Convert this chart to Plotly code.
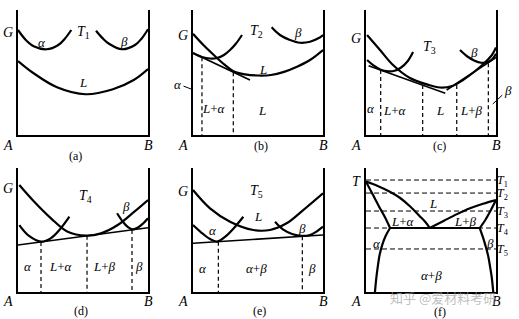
import plotly.graph_objects as go

# ---------------- data (composition x: A=0 .. B=1, free energy / temperature y: 0..1) ----------
# panel (a) T1
a_alpha_x = [0.0, 0.06, 0.12, 0.22, 0.31, 0.36, 0.41]
a_alpha_y = [0.84, 0.76, 0.71, 0.686, 0.72, 0.77, 0.84]
a_beta_x = [0.6, 0.65, 0.7, 0.8, 0.9, 0.95, 1.0]
a_beta_y = [0.834, 0.775, 0.73, 0.686, 0.72, 0.77, 0.846]
a_L_x = [0.0, 0.12, 0.3, 0.52, 0.73, 0.89, 1.0]
a_L_y = [0.592, 0.494, 0.382, 0.326, 0.366, 0.44, 0.528]

# panel (b) T2
b_L_x = [0.0, 0.08, 0.16, 0.24, 0.31, 0.4, 0.5, 0.6, 0.7, 0.8, 0.9, 1.0]
b_L_y = [0.81, 0.72, 0.64, 0.565, 0.51, 0.485, 0.476, 0.48, 0.505, 0.546, 0.6, 0.68]
b_alpha_x = [0.0, 0.069, 0.131, 0.185, 0.238, 0.285, 0.331, 0.377]
b_alpha_y = [0.656, 0.624, 0.612, 0.616, 0.64, 0.68, 0.732, 0.8]
b_beta_x = [0.605, 0.669, 0.746, 0.823, 0.9, 0.964, 1.0]
b_beta_y = [0.862, 0.8, 0.76, 0.738, 0.746, 0.774, 0.8]
b_tan_x = [0.0, 0.438]
b_tan_y = [0.656, 0.44]
b_dash_x = [0.069, 0.31]
b_dash_top = [0.622, 0.503]

# panel (c) T3
c_L_x = [0.008, 0.108, 0.208, 0.338, 0.469, 0.569, 0.662, 0.746, 0.838, 0.915, 0.969, 1.0]
c_L_y = [0.8, 0.68, 0.56, 0.456, 0.405, 0.38, 0.392, 0.44, 0.51, 0.58, 0.64, 0.70]
c_alpha_x = [0.008, 0.06, 0.113, 0.17, 0.22, 0.27, 0.32, 0.362]
c_alpha_y = [0.6, 0.555, 0.522, 0.51, 0.514, 0.54, 0.59, 0.664]
c_beta_x = [0.723, 0.777, 0.831, 0.885, 0.941, 0.975, 1.0]
c_beta_y = [0.68, 0.63, 0.597, 0.578, 0.585, 0.61, 0.65]
c_tan1_x = [0.02, 0.61]
c_tan1_y = [0.555, 0.335]
c_tan2_x = [0.62, 1.0]
c_tan2_y = [0.36, 0.62]
c_dash_x = [0.113, 0.436, 0.698, 0.941]
c_dash_top = [0.52, 0.40, 0.40, 0.575]

# panel (d) T4
d_L_x = [0.01, 0.125, 0.254, 0.382, 0.523, 0.638, 0.767, 0.895, 1.0]
d_L_y = [0.863, 0.728, 0.594, 0.486, 0.455, 0.473, 0.54, 0.648, 0.742]
d_alpha_x = [0.01, 0.085, 0.177, 0.254, 0.331, 0.395]
d_alpha_y = [0.54, 0.452, 0.406, 0.435, 0.516, 0.607]
d_beta_x = [0.762, 0.808, 0.846, 0.882, 0.923, 0.962, 1.0]
d_beta_y = [0.635, 0.565, 0.524, 0.505, 0.52, 0.552, 0.594]
d_tan_x = [0.0, 1.0]
d_tan_y = [0.379, 0.518]
d_dash_x = [0.177, 0.531, 0.877]
d_dash_top = [0.404, 0.453, 0.501]

# panel (e) T5
e_L_x = [0.0, 0.131, 0.285, 0.464, 0.592, 0.72, 0.848, 1.0]
e_L_y = [0.823, 0.675, 0.567, 0.5, 0.5, 0.554, 0.661, 0.796]
e_alpha_x = [0.0, 0.077, 0.131, 0.185, 0.246, 0.315, 0.387]
e_alpha_y = [0.54, 0.468, 0.427, 0.407, 0.444, 0.516, 0.607]
e_beta_x = [0.631, 0.692, 0.762, 0.838, 0.9, 0.954, 1.0]
e_beta_y = [0.567, 0.505, 0.468, 0.452, 0.46, 0.49, 0.527]
e_tan_x = [0.0, 1.0]
e_tan_y = [0.393, 0.46]
e_dash_x = [0.195, 0.841]
e_dash_top = [0.406, 0.449]

# panel (f) phase diagram
f_T_levels = [0.903, 0.798, 0.653, 0.516, 0.347]
f_T_names = ["1", "2", "3", "4", "5"]
f_liqA_x = [0.0, 0.09, 0.18, 0.26, 0.34, 0.41, 0.46, 0.49]
f_liqA_y = [0.89, 0.855, 0.81, 0.76, 0.69, 0.615, 0.56, 0.516]
f_solA_x = [0.0, 0.05, 0.1, 0.15, 0.185]
f_solA_y = [0.89, 0.79, 0.69, 0.595, 0.516]
f_liqB_x = [0.49, 0.6, 0.7, 0.8, 0.9, 1.0]
f_liqB_y = [0.516, 0.575, 0.628, 0.675, 0.712, 0.742]
f_solB_x = [1.0, 0.96, 0.92, 0.875]
f_solB_y = [0.742, 0.66, 0.585, 0.516]
f_eut_x = [0.185, 0.875]
f_eut_y = [0.516, 0.516]
f_svA_x = [0.185, 0.15, 0.125, 0.105, 0.09, 0.078, 0.069]
f_svA_y = [0.516, 0.45, 0.38, 0.3, 0.2, 0.1, 0.0]
f_svB_x = [0.875, 0.9, 0.92, 0.94, 0.955, 0.967, 0.979]
f_svB_y = [0.516, 0.44, 0.37, 0.29, 0.2, 0.12, 0.0]

# ---------------- figure ----------------
W, H = 519, 319
cols = [(18, 148), (193, 323), (366, 496)]
rows = [(10, 135), (168, 292)]
FONT = "Liberation Serif"

fig = go.Figure()
layout = dict(width=W, height=H, margin=dict(l=0, r=0, t=0, b=0),
              paper_bgcolor="white", plot_bgcolor="white", showlegend=False)

def ax(i):
    return ("x", "y") if i == 0 else (f"x{i+1}", f"y{i+1}")

for i in range(6):
    r, c = divmod(i, 3)
    L, R = cols[c]
    T, B = rows[r]
    sx = "" if i == 0 else str(i + 1)
    common = dict(range=[0, 1], showgrid=False, zeroline=False, showticklabels=False,
                  ticks="", showline=True, linecolor="black", linewidth=1.5, fixedrange=True)
    layout["xaxis" + sx] = dict(domain=[L / W, R / W], anchor="y" + sx, **common)
    layout["yaxis" + sx] = dict(domain=[1 - B / H, 1 - T / H], anchor="x" + sx, mirror=True, **common)

def curve(i, x, y, w=2.2, dash="solid", spline=True):
    xa, ya = ax(i)
    fig.add_trace(go.Scatter(x=x, y=y, mode="lines", xaxis=xa, yaxis=ya,
                             line=dict(color="black", width=w, dash=dash,
                                       shape="spline" if spline else "linear", smoothing=1.0),
                             hoverinfo="skip"))

def dashes(i, xs, tops):
    for xv, tv in zip(xs, tops):
        curve(i, [xv, xv], [tv, 0], w=1.2, dash="4px,3px", spline=False)

# (a)
curve(0, a_alpha_x, a_alpha_y); curve(0, a_beta_x, a_beta_y); curve(0, a_L_x, a_L_y)
# (b)
curve(1, b_L_x, b_L_y); curve(1, b_alpha_x, b_alpha_y); curve(1, b_beta_x, b_beta_y)
curve(1, b_tan_x, b_tan_y, w=1.6, spline=False); dashes(1, b_dash_x, b_dash_top)
# (c)
curve(2, c_L_x, c_L_y); curve(2, c_alpha_x, c_alpha_y); curve(2, c_beta_x, c_beta_y)
curve(2, c_tan1_x, c_tan1_y, w=1.6, spline=False); curve(2, c_tan2_x, c_tan2_y, w=1.6, spline=False)
dashes(2, c_dash_x, c_dash_top)
# (d)
curve(3, d_L_x, d_L_y); curve(3, d_alpha_x, d_alpha_y); curve(3, d_beta_x, d_beta_y)
curve(3, d_tan_x, d_tan_y, w=1.6, spline=False); dashes(3, d_dash_x, d_dash_top)
# (e)
curve(4, e_L_x, e_L_y); curve(4, e_alpha_x, e_alpha_y); curve(4, e_beta_x, e_beta_y)
curve(4, e_tan_x, e_tan_y, w=1.6, spline=False); dashes(4, e_dash_x, e_dash_top)
# (f)
for tl in f_T_levels:
    curve(5, [0, 1], [tl, tl], w=1.0, dash="5px,3px", spline=False)
curve(5, f_liqA_x, f_liqA_y); curve(5, f_solA_x, f_solA_y)
curve(5, f_liqB_x, f_liqB_y); curve(5, f_solB_x, f_solB_y)
curve(5, f_eut_x, f_eut_y, spline=False)
curve(5, f_svA_x, f_svA_y); curve(5, f_svB_x, f_svB_y)

ann = []
def lab(i, x, y, text, size=13, **kw):
    xa, ya = ax(i)
    d = dict(x=x, y=y, xref=xa + " domain", yref=ya + " domain", text=text, showarrow=False,
             xanchor="center", yanchor="middle",
             font=dict(family=FONT, size=size, color="black"))
    d.update(kw)
    ann.append(d)

I = lambda s: f"<i>{s}</i>"
Tn = lambda n: f"<i>T</i><sub>{n}</sub>"
La = "<i>L</i>+<i>α</i>"
Lb = "<i>L</i>+<i>β</i>"
ab = "<i>α</i>+<i>β</i>"

# common A / B / G and panel letters
letters = ["(a)", "(b)", "(c)", "(d)", "(e)", "(f)"]
letter_pos = [(0.44, -0.17), (0.523, -0.09), (0.562, -0.09), (0.485, -0.15), (0.515, -0.15), (0.569, -0.16)]
Gy = [0.816, 0.792, 0.77, 0.836, 0.809]
for i in range(6):
    lab(i, -0.075, -0.08, I("A"), size=14)
    lab(i, 1.0, -0.08, I("B"), size=14)
    lab(i, letter_pos[i][0], letter_pos[i][1], letters[i], size=12)
    if i < 5:
        lab(i, -0.077, Gy[i], I("G"), size=14)

# (a)
lab(0, 0.185, 0.74, I("α")); lab(0, 0.5, 0.82, Tn(1), size=14)
lab(0, 0.815, 0.745, I("β")); lab(0, 0.5, 0.42, I("L"))
# (b)
lab(1, 0.485, 0.83, Tn(2), size=14); lab(1, 0.808, 0.82, I("β"))
lab(1, 0.538, 0.52, I("L")); lab(1, 0.16, 0.216, La); lab(1, 0.531, 0.2, I("L"))
lab(1, -0.015, 0.368, I("α"), showarrow=True, arrowhead=0, arrowwidth=1, arrowcolor="black",
    ax=-13, ay=-5, standoff=0)
# (c)
lab(2, 0.492, 0.7, Tn(3), size=14); lab(2, 0.036, 0.216, I("α"))
lab(2, 0.223, 0.2, La); lab(2, 0.569, 0.2, I("L")); lab(2, 0.813, 0.2, Lb)
lab(2, 0.83, 0.66, I("β"))
lab(2, 0.975, 0.248, I("β"), showarrow=True, arrowhead=0, arrowwidth=1, arrowcolor="black",
    ax=15, ay=-14, standoff=0)
# (d)
lab(3, 0.523, 0.77, Tn(4), size=14); lab(3, 0.831, 0.69, I("β"))
lab(3, 0.075, 0.204, I("α")); lab(3, 0.331, 0.204, La); lab(3, 0.664, 0.204, Lb)
lab(3, 0.933, 0.204, I("β"))
# (e)
lab(4, 0.49, 0.81, Tn(5), size=14); lab(4, 0.502, 0.607, I("L"))
lab(4, 0.156, 0.5, I("α")); lab(4, 0.836, 0.514, I("β"))
lab(4, 0.079, 0.191, I("α")); lab(4, 0.49, 0.191, ab); lab(4, 0.913, 0.191, I("β"))
# (f)
lab(5, -0.072, 0.89, I("T"), size=14)
for tl, nm in zip(f_T_levels, f_T_names):
    lab(5, 1.05, tl - 0.01, Tn(nm), size=12)
lab(5, 0.518, 0.71, I("L")); lab(5, 0.287, 0.567, La); lab(5, 0.762, 0.567, Lb)
lab(5, 0.082, 0.393, I("α")); lab(5, 0.954, 0.393, I("β")); lab(5, 0.505, 0.13, ab)

ann.append(dict(x=443 / W, y=1 - 297 / H, xref="paper", yref="paper", text="知乎 @爱材料考研",
                xanchor="center", yanchor="middle", showarrow=False,
                font=dict(family="Noto Sans CJK SC", size=13, color="rgba(160,160,160,0.7)")))

layout["annotations"] = ann
fig.update_layout(**layout)
fig.write_html("out.html")
